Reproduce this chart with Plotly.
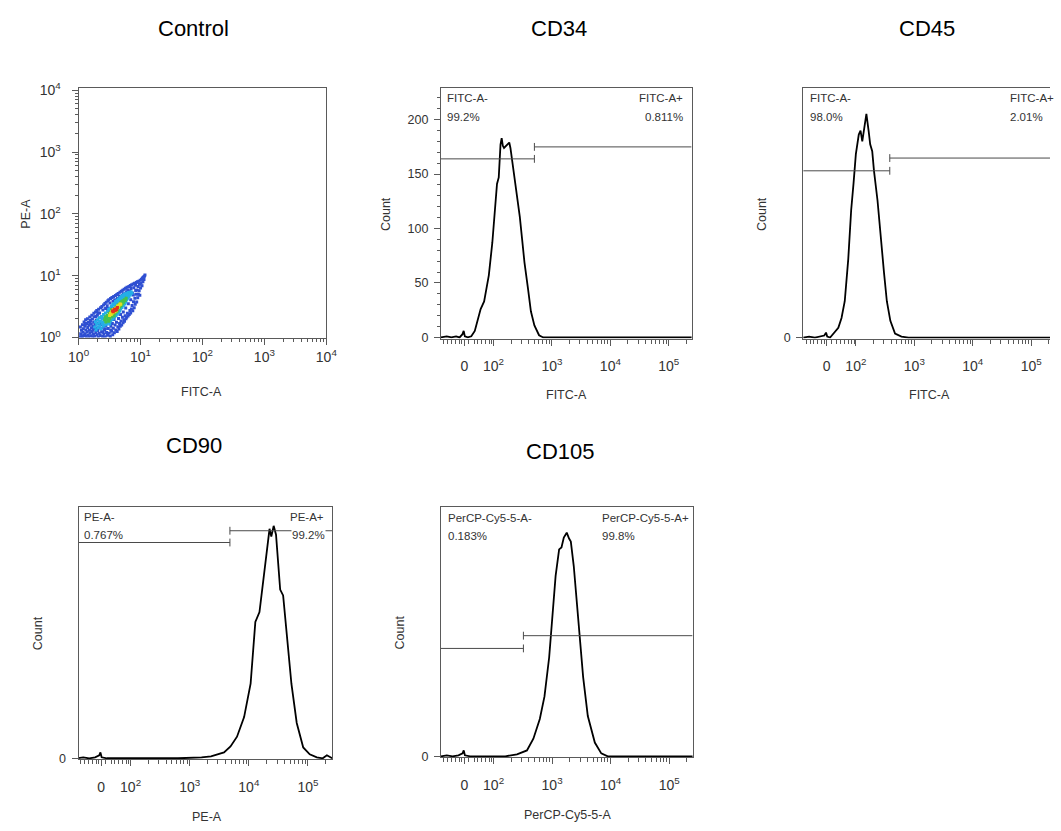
import math
import plotly.graph_objects as go

W, H = 1061, 831
FONT = "Liberation Sans, Arial, sans-serif"
LINE = "#5a5a5a"
TXT = "#333333"

# ---------------- data ----------------
# histogram x axis (biexponential display scale: 0 -> 1.5, 10^n -> n)
hist_tick_pos = [1.5, 2, 3, 4, 5]
hist_tick_text = ["0", "10<sup>2</sup>", "10<sup>3</sup>", "10<sup>4</sup>", "10<sup>5</sup>"]
hist_minor_lin = [1.15, 1.22, 1.28, 1.35, 1.42, 1.46, 1.58, 1.67, 1.73, 1.80, 1.87, 1.93, 1.97]
minor_mult = [2, 3, 4, 5, 6, 7, 8, 9]
hist_minor_decades = [2, 3, 4, 5]
count_minor_step = 10

# control dot plot (log axes)
log_tick_vals = [1, 10, 100, 1000, 10000]
log_tick_text = ["10<sup>0</sup>", "10<sup>1</sup>", "10<sup>2</sup>", "10<sup>3</sup>", "10<sup>4</sup>"]
log_minor_decades = [0, 1, 2, 3]

# control events: (log10 FITC-A, log10 PE-A), grouped by density level
ctrl_blue = [
    (0.021,0.013),(0.034,0.062),(0.047,0.118),(0.029,0.171),(0.052,0.024),
    (0.063,0.205),(0.071,0.087),(0.078,0.142),(0.084,0.031),(0.089,0.251),(0.066,0.009),
    (0.102,0.184),(0.107,0.062),(0.114,0.287),(0.119,0.121),(0.124,0.018),(0.128,0.226),
    (0.139,0.093),(0.143,0.305),(0.148,0.162),(0.153,0.041),(0.158,0.248),(0.166,0.197),(0.169,0.007),
    (0.176,0.118),(0.181,0.331),(0.186,0.072),(0.192,0.274),(0.197,0.029),(0.203,0.216),(0.208,0.158),
    (0.214,0.362),(0.219,0.097),(0.224,0.301),(0.229,0.012),(0.236,0.187),(0.241,0.053),(0.247,0.391),(0.244,0.246),
    (0.253,0.138),(0.258,0.337),(0.263,0.021),(0.268,0.208),(0.274,0.414),(0.279,0.082),(0.285,0.281),(0.289,0.156),
    (0.294,0.437),(0.298,0.044),(0.304,0.362),(0.309,0.113),(0.314,0.228),(0.319,0.006),(0.324,0.459),(0.328,0.172),
    (0.334,0.071),(0.339,0.398),(0.344,0.262),(0.349,0.031),(0.355,0.481),(0.361,0.141),(0.366,0.327),
    (0.372,0.094),(0.377,0.503),(0.382,0.214),(0.388,0.017),(0.393,0.446),(0.398,0.168),(0.404,0.526),(0.409,0.058),
    (0.414,0.289),(0.419,0.121),(0.425,0.549),(0.431,0.011),(0.436,0.468),(0.441,0.196),(0.447,0.572),(0.452,0.083),
    (0.457,0.241),(0.462,0.513),(0.468,0.036),(0.473,0.594),(0.478,0.147),(0.484,0.422),(0.489,0.612),
    (0.495,0.069),(0.501,0.268),(0.506,0.558),(0.512,0.018),(0.517,0.631),(0.522,0.182),(0.528,0.496),
    (0.534,0.103),(0.539,0.648),(0.545,0.227),(0.551,0.044),(0.556,0.587),(0.561,0.151),(0.567,0.663),
    (0.573,0.291),(0.578,0.079),(0.584,0.612),(0.589,0.204),(0.595,0.681),(0.601,0.122),(0.606,0.548),
    (0.612,0.246),(0.617,0.697),(0.623,0.098),(0.628,0.631),(0.634,0.173),(0.639,0.714),(0.645,0.309),
    (0.651,0.138),(0.656,0.662),(0.662,0.227),(0.668,0.732),(0.673,0.184),(0.679,0.598),(0.685,0.266),
    (0.691,0.748),(0.696,0.203),(0.702,0.681),(0.708,0.327),(0.713,0.764),(0.719,0.238),(0.725,0.709),
    (0.731,0.286),(0.736,0.782),(0.742,0.262),(0.748,0.651),(0.753,0.351),(0.759,0.797),(0.765,0.303),
    (0.771,0.736),(0.777,0.327),(0.782,0.812),(0.788,0.391),(0.794,0.768),(0.799,0.348),(0.806,0.689),
    (0.812,0.826),(0.818,0.372),(0.823,0.751),(0.829,0.437),(0.835,0.841),(0.841,0.398),(0.847,0.792),
    (0.853,0.462),(0.858,0.855),(0.864,0.517),(0.869,0.722),(0.875,0.432),(0.881,0.868),(0.887,0.578),
    (0.892,0.807),(0.898,0.481),(0.904,0.879),(0.909,0.634),(0.915,0.539),(0.921,0.846),(0.927,0.702),
    (0.933,0.891),(0.938,0.574),(0.944,0.768),(0.949,0.903),(0.955,0.643),(0.961,0.827),(0.966,0.701),
    (0.972,0.912),(0.978,0.757),(0.984,0.861),(0.989,0.683),(0.995,0.927),(1.001,0.802),
    (1.008,0.878),(1.016,0.941),(1.024,0.836),(1.031,0.962),(1.039,0.903),(1.047,0.978),(1.056,0.937),
    (1.064,0.991),(1.072,1.012),
    (0.112,0.214),(0.188,0.241),(0.232,0.121),(0.281,0.341),(0.317,0.398),(0.358,0.213),(0.392,0.087),
    (0.433,0.142),(0.476,0.468),(0.519,0.121),(0.558,0.341),(0.597,0.421),(0.641,0.592),(0.678,0.371),
    (0.722,0.412),(0.761,0.476),(0.803,0.548),(0.842,0.612),(0.883,0.689),(0.922,0.761)]
ctrl_cyan = [
    (0.262,0.172),(0.271,0.254),(0.283,0.121),(0.292,0.213),(0.306,0.288),(0.313,0.159),(0.327,0.237),(0.336,0.318),
    (0.342,0.187),(0.353,0.264),(0.364,0.142),(0.371,0.341),(0.379,0.226),(0.386,0.298),(0.397,0.182),(0.403,0.372),
    (0.412,0.257),(0.418,0.321),(0.427,0.203),(0.434,0.398),(0.443,0.281),(0.449,0.346),(0.456,0.219),(0.465,0.421),
    (0.471,0.303),(0.479,0.246),(0.486,0.452),(0.493,0.327),(0.502,0.219),(0.508,0.472),(0.516,0.268),(0.523,0.394),
    (0.531,0.512),(0.537,0.286),(0.546,0.443),(0.553,0.534),(0.559,0.302),(0.568,0.481),(0.574,0.552),(0.582,0.337),
    (0.591,0.512),(0.597,0.583),(0.604,0.352),(0.613,0.547),(0.619,0.601),(0.627,0.378),(0.636,0.577),(0.642,0.623),
    (0.649,0.401),(0.658,0.602),(0.664,0.429),(0.671,0.648),(0.679,0.462),(0.687,0.611),(0.694,0.667),(0.701,0.487),
    (0.709,0.632),(0.716,0.683),(0.724,0.513),(0.732,0.658),(0.739,0.702),(0.747,0.541),(0.756,0.683),(0.763,0.574),
    (0.771,0.716),(0.779,0.611),(0.788,0.681),(0.796,0.637),(0.805,0.728),(0.814,0.662),(0.823,0.707),(0.835,0.689),
    (0.848,0.742),(0.862,0.716),(0.398,0.243),(0.452,0.275),(0.511,0.342),(0.566,0.402),(0.623,0.461),(0.681,0.528)]
ctrl_green = [
    (0.421,0.288),(0.432,0.331),(0.441,0.252),(0.453,0.312),(0.462,0.358),(0.474,0.281),(0.483,0.341),(0.491,0.389),
    (0.503,0.302),(0.512,0.371),(0.519,0.418),(0.527,0.334),(0.538,0.392),(0.547,0.352),(0.556,0.438),(0.563,0.371),
    (0.572,0.421),(0.581,0.467),(0.589,0.391),(0.598,0.446),(0.607,0.488),(0.616,0.418),(0.624,0.502),(0.633,0.443),
    (0.641,0.531),(0.652,0.472),(0.661,0.538),(0.669,0.497),(0.678,0.562),(0.688,0.518),(0.697,0.581),(0.706,0.547),
    (0.717,0.597),(0.728,0.571),(0.741,0.612),(0.754,0.598),(0.768,0.637),(0.487,0.262),(0.532,0.452),(0.573,0.352)]
ctrl_yellow = [
    (0.501,0.358),(0.514,0.392),(0.528,0.371),(0.537,0.421),(0.549,0.398),(0.561,0.452),(0.574,0.413),(0.583,0.441),
    (0.596,0.472),(0.604,0.431),(0.618,0.478),(0.629,0.512),(0.641,0.487),(0.653,0.521),(0.667,0.543),(0.681,0.538)]
ctrl_red = [(0.548,0.428),(0.561,0.419),(0.572,0.447),(0.585,0.458),(0.593,0.437),(0.606,0.463),(0.615,0.452),
            (0.628,0.486)]

# histograms: display position, count
cd34_x = [1.10,1.20,1.28,1.36,1.42,1.47,1.49,1.51,1.56,1.62,1.68,1.73,1.78,1.84,1.92,1.98,2.03,2.06,2.09,2.12,
          2.14,2.16,2.18,2.23,2.27,2.29,2.33,2.35,2.39,2.45,2.49,2.53,2.59,2.64,2.70,2.78,2.85,3.5,4.5,5.4]
cd34_y = [0,1,0,1,0,3,6,1,0,1,6,17,26,33,57,87,123,141,147,177,
          183,176,174,177,179,174,159,150,135,111,90,69,45,24,11,2,0,0,0,0]

cd45_x = [1.10,1.20,1.30,1.40,1.46,1.49,1.51,1.56,1.70,1.755,1.81,1.87,1.92,1.96,2.00,2.05,2.08,2.11,2.145,2.18,
          2.22,2.245,2.28,2.31,2.37,2.42,2.48,2.53,2.59,2.67,2.78,2.9,4.0,5.32]
cd45_y = [0,1,0,1,2,5,1,0,10,20,37,80,130,157,187,207,211,200,217,228,
          210,197,190,170,140,104,67,37,17,4,1,0,0,0]

cd90_x = [1.10,1.20,1.30,1.40,1.47,1.49,1.51,1.60,2.2,2.8,3.2,3.36,3.58,3.69,3.80,3.92,4.03,4.08,4.11,4.18,
          4.25,4.33,4.35,4.38,4.42,4.46,4.50,4.53,4.58,4.64,4.72,4.81,4.92,5.03,5.15,5.25,5.32,5.38,5.41]
cd90_y = [0,1,0,1,3,6,1,0,0,0,1,2,6,12,22,42,76,116,139,149,
          186,226,234,226,237,228,196,172,166,129,76,36,11,4,1,0,3,1,0]

cd105_x = [1.10,1.20,1.30,1.40,1.47,1.49,1.51,1.60,2.2,2.40,2.57,2.68,2.79,2.87,2.95,3.01,3.06,3.12,3.16,3.20,
           3.25,3.29,3.32,3.37,3.42,3.48,3.53,3.61,3.73,3.84,3.95,5.41]
cd105_y = [0,1,0,1,3,6,1,0,0,2,6,18,38,61,101,148,184,211,213,223,
           228,222,219,194,161,121,81,41,14,3,0,0]

# gates: divider position, left-gate count level, right-gate count level
gate_x = {"CD34": 2.70, "CD45": 2.58, "CD90": 3.68, "CD105": 2.51}
gate_left_y = {"CD34": 164, "CD45": 170, "CD90": 220, "CD105": 110}
gate_right_y = {"CD34": 175, "CD45": 183, "CD90": 232, "CD105": 123}

gate_names = {"CD34": ("FITC-A-", "FITC-A+"), "CD45": ("FITC-A-", "FITC-A+"),
              "CD90": ("PE-A-", "PE-A+"), "CD105": ("PerCP-Cy5-5-A-", "PerCP-Cy5-5-A+")}
gate_pcts = {"CD34": ("99.2%", "0.811%"), "CD45": ("98.0%", "2.01%"),
             "CD90": ("0.767%", "99.2%"), "CD105": ("0.183%", "99.8%")}

# ---------------- layout helpers ----------------
def dom_x(a, b):
    return [a / W, min(b / W, 1.0)]

def dom_y(top, bottom):
    return [1 - bottom / H, 1 - top / H]

panels = {
    # name: (axis index, left, right, top, bottom px, x range, y range, right border)
    "CD34": (2, 439, 695, 82, 337, [1.1, 5.39], [-1, 228.7], True),
    "CD45": (3, 809, 1061, 82, 337, [1.1, 5.32], [-1, 254], False),
    "CD90": (4, 69, 328, 509, 766, [1.12, 5.41], [-1, 256], True),
    "CD105": (5, 439, 696, 509, 764, [1.1, 5.4], [-1, 254], True),
}
hist_data = {"CD34": (cd34_x, cd34_y), "CD45": (cd45_x, cd45_y),
             "CD90": (cd90_x, cd90_y), "CD105": (cd105_x, cd105_y)}

hist_minor = hist_minor_lin + [d + math.log10(m) for d in hist_minor_decades for m in minor_mult
                               if d + math.log10(m) < 5.45]
log_minor = [m * 10 ** d for d in log_minor_decades for m in minor_mult]

fig = go.Figure()
layout = dict(width=W, height=H, margin=dict(l=0, r=0, t=0, b=0), paper_bgcolor="white",
              plot_bgcolor="white", showlegend=False, font=dict(family=FONT, color=TXT))

common_axis = dict(showline=True, linecolor=LINE, linewidth=1, mirror=True, showgrid=False, zeroline=False,
                   ticks="outside", tickcolor=LINE, ticklen=6, tickwidth=1)
minor_axis = dict(showline=False, showgrid=False, zeroline=False, showticklabels=False, ticks="outside",
                  tickcolor=LINE, tickwidth=1, tickmode="array")

# ---- control panel ----
ctrl_groups = [(ctrl_blue, "#2f4fd2"), (ctrl_cyan, "#24aee6"), (ctrl_green, "#46c24a"),
               (ctrl_yellow, "#e6dc22"), (ctrl_red, "#e2301c")]
for pts, col in ctrl_groups:
    fig.add_trace(go.Scatter(x=[10 ** p[0] for p in pts], y=[10 ** p[1] for p in pts], mode="markers",
                             marker=dict(color=col, size=3, symbol="square", line=dict(width=0)),
                             xaxis="x", yaxis="y", hoverinfo="skip"))

layout["xaxis"] = dict(common_axis, domain=dom_x(69, 322), anchor="y", type="log", range=[0, 4],
                       tickmode="array", tickvals=log_tick_vals, ticktext=log_tick_text,
                       tickfont=dict(size=14, color=TXT), ticklabelstandoff=1)
layout["yaxis"] = dict(common_axis, domain=dom_y(82, 336), anchor="x", type="log", range=[0, 4.03],
                       tickmode="array", tickvals=log_tick_vals, ticktext=log_tick_text,
                       tickfont=dict(size=14, color=TXT), ticklabelstandoff=8)
# minor tick overlays for control
layout["xaxis11"] = dict(minor_axis, overlaying="x", anchor="y", type="log", range=[0, 4],
                         tickvals=log_minor, ticklen=3)
layout["yaxis11"] = dict(minor_axis, overlaying="y", anchor="x", type="log", range=[0, 4.03],
                         tickvals=log_minor, ticklen=3)
fig.add_trace(go.Scatter(x=[], y=[], xaxis="x11", yaxis="y", hoverinfo="skip"))
fig.add_trace(go.Scatter(x=[], y=[], xaxis="x", yaxis="y11", hoverinfo="skip"))

# ---- histogram panels ----
for name, (i, l, r, t, b, xr, yr, mir) in panels.items():
    xa, ya = f"x{i}", f"y{i}"
    hx, hy = hist_data[name]
    fig.add_trace(go.Scatter(x=hx, y=hy, mode="lines", line=dict(color="black", width=1.8),
                             xaxis=xa, yaxis=ya, hoverinfo="skip"))
    # gates
    h = 4 * (yr[1] - yr[0]) / (b - t)
    gx, yl, yrt = gate_x[name], gate_left_y[name], gate_right_y[name]
    fig.add_trace(go.Scatter(
        x=[xr[0], gx, None, gx, gx, None, gx, xr[1], None, gx, gx],
        y=[yl, yl, None, yl - h, yl + h, None, yrt, yrt, None, yrt - h, yrt + h],
        mode="lines", line=dict(color="#4a4a4a", width=1), xaxis=xa, yaxis=ya, hoverinfo="skip"))

    layout[f"xaxis{i}"] = dict(common_axis, domain=dom_x(l, r), anchor=ya, range=xr,
                               tickmode="array", tickvals=hist_tick_pos, ticktext=hist_tick_text,
                               tickfont=dict(size=14, color=TXT), ticklabelstandoff=9)
    layout[f"xaxis{i + 10}"] = dict(minor_axis, overlaying=xa, anchor=ya, range=xr,
                                    tickvals=hist_minor, ticklen=4)
    fig.add_trace(go.Scatter(x=[], y=[], xaxis=f"x{i + 10}", yaxis=ya, hoverinfo="skip"))

    yax = dict(common_axis, domain=dom_y(t, b), anchor=xa, range=yr, mirror=mir,
               tickfont=dict(size=12.5, color=TXT), ticklabelstandoff=3)
    if name == "CD34":
        yax.update(tickmode="array", tickvals=[0, 50, 100, 150, 200])
        layout[f"yaxis{i + 10}"] = dict(minor_axis, overlaying=ya, anchor=xa, range=yr,
                                        tickvals=list(range(0, int(yr[1]) + 1, count_minor_step)),
                                        ticklen=3)
        fig.add_trace(go.Scatter(x=[], y=[], xaxis=xa, yaxis=f"y{i + 10}", hoverinfo="skip"))
    else:
        yax.update(tickmode="array", tickvals=[0], ticktext=["0"])
    layout[f"yaxis{i}"] = yax

# ---------------- text ----------------
annotations = []

def ann(text, px, py, size, xanchor="center", angle=0, color=TXT, bg=None):
    d = dict(text=text, x=px / W, y=1 - py / H, xref="paper", yref="paper", showarrow=False,
             xanchor=xanchor, yanchor="middle", textangle=angle,
             font=dict(family=FONT, size=size, color=color))
    if bg:
        d["bgcolor"] = bg
        d["borderpad"] = 0
    annotations.append(d)

titles = [("Control", 186, 21), ("CD34", 560, 21), ("CD45", 935, 21), ("CD90", 187, 446), ("CD105", 561, 452)]
for txt, px, py in titles:
    ann(txt, px, py, 22, color="black")

axis_titles = [("PE-A", 15, 210, -90), ("FITC-A", 195, 392, 0),
               ("Count", 383, 210, -90), ("FITC-A", 567, 395, 0),
               ("Count", 767, 210, -90), ("FITC-A", 938, 395, 0),
               ("Count", 27, 637, -90), ("PE-A", 200, 825, 0),
               ("Count", 397, 637, -90), ("PerCP-Cy5-5-A", 568, 823, 0)]
for txt, px, py, ang in axis_titles:
    ann(txt, px, py, 12.5, angle=ang)

label_pos = {
    # left x, right x, right anchor, name row y, pct row y
    "CD34": (443, 688, "right", 92, 111),
    "CD45": (814, 1018, "left", 92, 111),
    "CD90": (73, 322, "right", 519, 537),
    "CD105": (444, 601, "left", 520, 538),
}
for name, (lx, rx, ranc, y1, y2) in label_pos.items():
    nm, pc = gate_names[name], gate_pcts[name]
    ann(nm[0], lx, y1, 11.5, xanchor="left")
    ann(pc[0], lx, y2, 11.5, xanchor="left")
    ann(nm[1], rx, y1, 11.5, xanchor=ranc)
    ann(pc[1], rx, y2, 11.5, xanchor=ranc, bg="white" if name == "CD90" else None)

layout["annotations"] = annotations
fig.update_layout(**layout)

fig.write_html("out.html", config={"displayModeBar": False},
               post_script="document.body.style.margin='0';")
